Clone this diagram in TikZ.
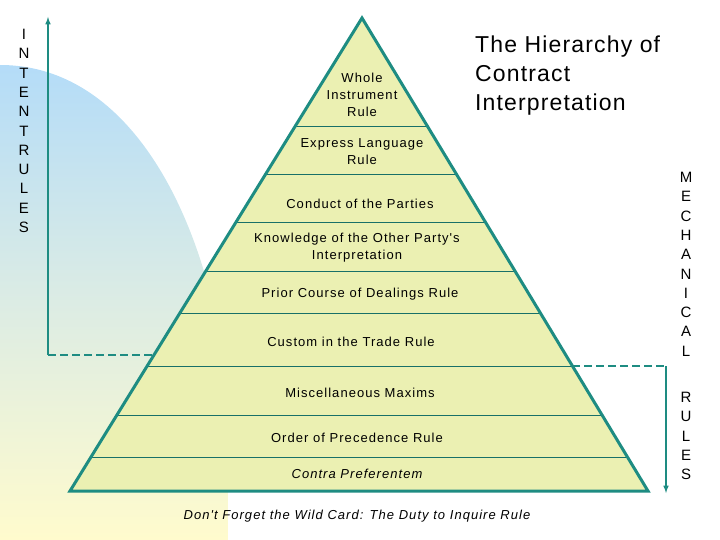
\documentclass[tikz,border=0pt]{standalone}
\usepackage{fontspec}
\setmainfont{Liberation Sans}
\newfontfamily\spaced[LetterSpace=8]{Liberation Sans}
\newfontfamily\tspaced[LetterSpace=5]{Liberation Sans}
\begin{document}
\begin{tikzpicture}[x=1pt,y=-1pt,
  lbl/.style={font=\spaced\fontsize{13}{17}\selectfont,align=center,inner sep=0pt},
  vert/.style={font=\fontsize{15}{19.3}\selectfont,align=center,inner sep=0pt,anchor=north},
  tier/.style={draw=teal!80!black,line width=0.9pt},
  dsh/.style={dash pattern=on 8pt off 4pt}]
\definecolor{teal}{RGB}{30,140,130}
\definecolor{pyr}{RGB}{235,240,178}
\useasboundingbox (0,0) rectangle (720,540);
\shade[top color={rgb,255:red,180;green,220;blue,248}, bottom color={rgb,255:red,255;green,251;blue,205}, middle color={rgb,255:red,220;green,236;blue,228}]
  (0,65) .. controls (140,65) and (215,240) .. (228,400) -- (228,540) -- (0,540) -- cycle;
\coordinate (A) at (362,18);
\coordinate (BL) at (70,491);
\coordinate (BR) at (648,491);
\fill[pyr] (A) -- (BL) -- (BR) -- cycle;
\foreach \y in {126.5,174,222,271,313,366,415,457}{
  \path (A) -- (BL) coordinate[pos={(\y-18)/473}] (l);
  \path (A) -- (BR) coordinate[pos={(\y-18)/473}] (r);
  \draw[tier] (l) -- (r);
}
\draw[teal,line width=3pt,line join=miter] (A) -- (BL) -- (BR) -- cycle;
\node[lbl] (t1) at (362,95) {Whole\\Instrument\\Rule};
\node[lbl] (t2) at (362,152) {Express Language\\Rule};
\node[lbl] (t3) at (360,204) {Conduct of the Parties};
\node[lbl] (t4) at (357,248) {Knowledge of the Other Party's\\Interpretation};
\node[lbl] (t5) at (360,294) {Prior Course of Dealings Rule};
\node[lbl] (t6) at (351,342) {Custom in the Trade Rule};
\node[lbl] (t7) at (360,393) {Miscellaneous Maxims};
\node[lbl] (t8) at (357,438) {Order of Precedence Rule};
\node[lbl,font=\spaced\fontsize{13}{17}\selectfont\itshape] (t9) at (357,474) {Contra Preferentem};
\node[lbl,font=\spaced\fontsize{13}{17}\selectfont\itshape] (t10) at (357,516) {Don't Forget the Wild Card: The Duty to Inquire Rule};
\node[font=\tspaced\fontsize{23}{29}\selectfont,align=left,anchor=north west,inner sep=0pt] (title) at (475,36) {The Hierarchy of\\Contract\\Interpretation};
\node[vert] (v1) at (24,29) {I\\N\\T\\E\\N\\T\\R\\U\\L\\E\\S};
\node[vert] (v2) at (686,172) {M\\E\\C\\H\\A\\N\\I\\C\\A\\L};
\node[vert] (v3) at (686,392) {R\\U\\L\\E\\S};
\coordinate (la) at (48,355);
\coordinate (lt) at (48,17);
\coordinate (lp) at (152,355);
\draw[teal,line width=1.5pt,-latex] (la) -- (lt);
\draw[teal,line width=1.5pt,dsh] (la) -- (lp);
\coordinate (ra) at (666,366);
\coordinate (rb) at (666,493);
\coordinate (rp) at (572,366);
\draw[teal,line width=1.5pt,dsh] (rp) -- (ra);
\draw[teal,line width=1.5pt,-latex] (ra) -- (rb);
\end{tikzpicture}
\end{document}
